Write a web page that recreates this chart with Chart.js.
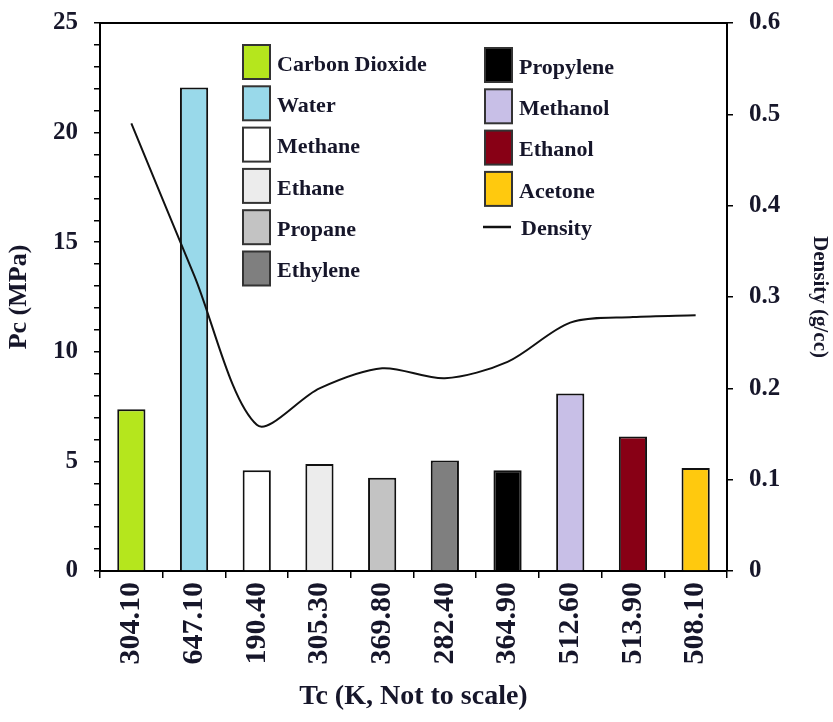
<!DOCTYPE html>
<html>
<head>
<meta charset="utf-8">
<script src="https://cdn.jsdelivr.net/npm/chart.js@4/dist/chart.umd.min.js"></script>
<style>
    body { margin: 0; background: #fff; }
    #wrap { width: 833px; height: 722px; }
</style>
</head>
<body>
<div id="wrap"><canvas id="pcChart" width="833" height="722"></canvas></div>
<script>
// Critical temperature labels (x axis, not to scale)
const tcLabels = ['304.10', '647.10', '190.40', '305.30', '369.80', '282.40', '364.90', '512.60', '513.90', '508.10'];
const compounds = ['Carbon Dioxide', 'Water', 'Methane', 'Ethane', 'Propane', 'Ethylene', 'Propylene', 'Methanol', 'Ethanol', 'Acetone'];
// Critical pressure, MPa (left axis)
const pcValues = [7.38, 22.06, 4.6, 4.88, 4.25, 5.04, 4.6, 8.1, 6.14, 4.7];
// Critical density, g/cc (right axis)
const densityValues = [0.49, 0.324, 0.16, 0.2, 0.222, 0.211, 0.229, 0.272, 0.278, 0.28];
const barColors = ['#b5e61d', '#99d9ea', '#ffffff', '#ececec', '#c3c3c3', '#7f7f7f', '#000000', '#c8bfe7', '#880015', '#ffc90e'];

const FONT = "'Liberation Serif', 'Times New Roman', serif";
const TEXT = '#16162a';

// Two-column legend drawn inside the plot area, plus the top frame line
const framePlugin = {
    id: 'frameAndLegend',
    afterDraw(chart) {
        const ctx = chart.ctx;
        const area = chart.chartArea;
        ctx.save();
        ctx.strokeStyle = '#000';
        ctx.lineWidth = 2;
        ctx.beginPath();
        ctx.moveTo(area.left, area.top);
        ctx.lineTo(area.right, area.top);
        ctx.stroke();

        ctx.font = 'bold 22px ' + FONT;
        ctx.textBaseline = 'middle';
        ctx.textAlign = 'left';
        const cols = [{ x: 243, y: 45, items: [0, 1, 2, 3, 4, 5] },
                      { x: 485, y: 48, items: [6, 7, 8, 9] }];
        cols.forEach(col => {
            col.items.forEach((idx, r) => {
                const y = col.y + r * 41.3;
                ctx.fillStyle = barColors[idx];
                ctx.fillRect(col.x, y, 27, 34);
                ctx.strokeStyle = '#333';
                ctx.lineWidth = 2;
                ctx.strokeRect(col.x, y, 27, 34);
                ctx.fillStyle = TEXT;
                ctx.fillText(compounds[idx], col.x + 34, y + 20);
            });
        });
        // density entry
        const dy = 227;
        ctx.strokeStyle = '#111';
        ctx.lineWidth = 2.5;
        ctx.beginPath();
        ctx.moveTo(483, dy);
        ctx.lineTo(511, dy);
        ctx.stroke();
        ctx.fillStyle = TEXT;
        ctx.fillText('Density', 521, dy + 2);
        ctx.restore();
    }
};

const fitY = w => s => { s.width = w; s.paddingTop = 0; s.paddingBottom = 0; };

const ctx = document.getElementById('pcChart');
new Chart(ctx, {
    type: 'bar',
    data: {
        labels: tcLabels,
        datasets: [{
            type: 'line',
            label: 'Density',
            data: densityValues,
            yAxisID: 'y1',
            borderColor: '#111',
            borderWidth: 2,
            pointRadius: 0,
            tension: 0.3,
            fill: false,
            order: 0
        }, {
            label: 'Pc',
            data: pcValues,
            yAxisID: 'y',
            backgroundColor: barColors,
            borderColor: '#111',
            borderWidth: 2,
            barPercentage: 0.45,
            categoryPercentage: 1,
            order: 1
        }]
    },
    options: {
        responsive: false,
        animation: false,
        devicePixelRatio: 1,
        layout: { padding: { top: 23, left: 0, right: 0, bottom: 0 } },
        plugins: {
            legend: { display: false },
            tooltip: { enabled: false }
        },
        scales: {
            x: {
                afterFit: s => { s.height = 151; },
                grid: { drawOnChartArea: false, drawTicks: true, tickLength: 7, color: '#000', lineWidth: 1.5 },
                border: { display: true, color: '#000', width: 2 },
                ticks: {
                    color: TEXT,
                    font: { family: FONT, size: 30, weight: 'bold' },
                    minRotation: 90,
                    maxRotation: 90,
                    padding: 4,
                    autoSkip: false
                },
                title: {
                    display: true,
                    text: 'Tc (K, Not to scale)',
                    color: TEXT,
                    font: { family: FONT, size: 28, weight: 'bold' },
                    padding: { top: 0, bottom: 8 }
                }
            },
            y: {
                position: 'left',
                min: 0,
                max: 25,
                afterFit: fitY(100),
                grid: { drawOnChartArea: false, drawTicks: true, tickLength: 6, color: '#000', lineWidth: 1.5 },
                border: { display: true, color: '#000', width: 2 },
                ticks: {
                    stepSize: 1,
                    autoSkip: false,
                    color: TEXT,
                    font: { family: FONT, size: 25, weight: 'bold' },
                    padding: 16,
                    callback: v => (v % 5 === 0 ? v : '')
                },
                title: {
                    display: true,
                    text: 'Pc (MPa)',
                    color: TEXT,
                    font: { family: FONT, size: 26, weight: 'bold' },
                    padding: { top: 4, bottom: 0 }
                }
            },
            y1: {
                position: 'right',
                min: 0,
                max: 0.6,
                afterFit: fitY(106),
                grid: { drawOnChartArea: false, drawTicks: true, tickLength: 6, color: '#000', lineWidth: 1.5 },
                border: { display: true, color: '#000', width: 2 },
                ticks: {
                    stepSize: 0.1,
                    autoSkip: false,
                    color: TEXT,
                    font: { family: FONT, size: 25, weight: 'bold' },
                    padding: 16
                },
                title: {
                    display: true,
                    text: 'Density (g/cc)',
                    color: TEXT,
                    font: { family: FONT, size: 21, weight: 'bold' },
                    padding: { top: 1, bottom: 0 }
                }
            }
        }
    },
    plugins: [framePlugin]
});
</script>
</body>
</html>
